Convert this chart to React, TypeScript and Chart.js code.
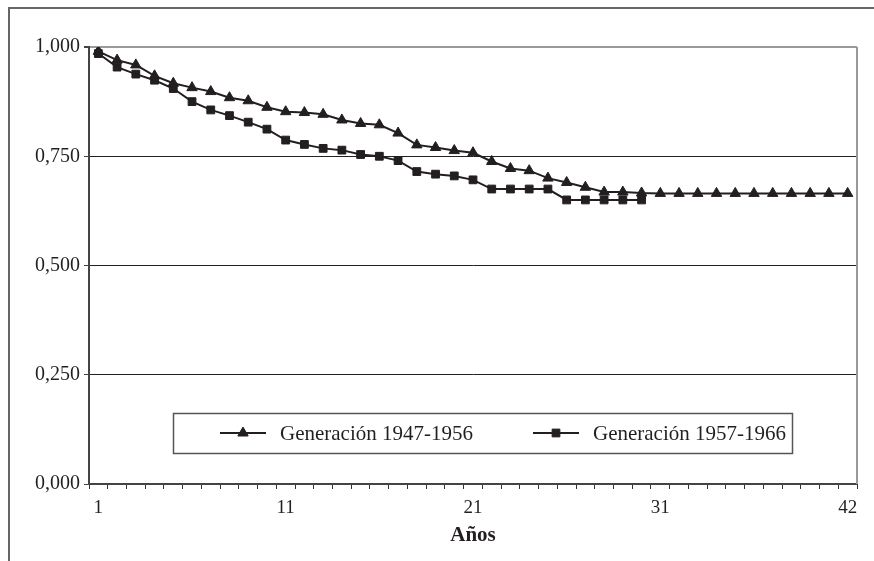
import { useEffect, useRef } from 'react';
import { Chart, registerables } from 'chart.js';
import { drawPoint } from 'chart.js/helpers';

Chart.register(...registerables);

const years = [
  '1', '2', '3', '4', '5', '6', '7', '8', '9', '10',
  '11', '12', '13', '14', '15', '16', '17', '18', '19', '20',
  '21', '22', '23', '24', '25', '26', '27', '28', '29', '30',
  '31', '32', '33', '34', '35', '36', '37', '38', '39', '40',
  '42',
];
const shownTickIndices = [0, 10, 20, 30, 40];

const seriesNames = ['Generación 1947-1956', 'Generación 1957-1966'];

const gen1947 = [
  0.990, 0.970, 0.959, 0.934, 0.917, 0.907, 0.898, 0.884, 0.877, 0.862,
  0.852, 0.850, 0.846, 0.833, 0.825, 0.822, 0.803, 0.776, 0.770, 0.763,
  0.758, 0.738, 0.722, 0.717, 0.700, 0.690, 0.679, 0.668, 0.668, 0.666,
  0.665, 0.665, 0.665, 0.665, 0.665, 0.665, 0.665, 0.665, 0.665, 0.665,
  0.665,
];

const gen1957 = [
  0.985, 0.954, 0.938, 0.924, 0.905, 0.875, 0.856, 0.843, 0.828, 0.812,
  0.787, 0.777, 0.768, 0.764, 0.754, 0.750, 0.740, 0.715, 0.709, 0.705,
  0.696, 0.675, 0.675, 0.675, 0.675, 0.650, 0.650, 0.650, 0.650, 0.650,
];

const yMin = 0;
const yMax = 1;
const yStep = 0.25;
const xTitle = 'Años';

const INK = '#231f20';
const FONT = '"Liberation Serif", "Times New Roman", serif';

const framePlugin = {
  id: 'framePlugin',
  beforeDraw(chart: any) {
    const ctx = chart.ctx;
    ctx.save();
    ctx.fillStyle = '#ffffff';
    ctx.fillRect(0, 0, chart.width, chart.height);
    ctx.strokeStyle = '#666666';
    ctx.lineWidth = 2;
    ctx.beginPath();
    ctx.moveTo(9, chart.height);
    ctx.lineTo(9, 8);
    ctx.lineTo(chart.width, 8);
    ctx.stroke();
    ctx.restore();
  },
  beforeDatasetsDraw(chart: any) {
    const { ctx, chartArea } = chart;
    ctx.save();
    ctx.strokeStyle = '#9a9a9a';
    ctx.lineWidth = 2;
    ctx.beginPath();
    ctx.moveTo(chartArea.right, chartArea.top);
    ctx.lineTo(chartArea.right, chartArea.bottom);
    ctx.stroke();
    ctx.restore();
  },
};

const legendPlugin = {
  id: 'boxLegend',
  afterDraw(chart: any) {
    const { ctx, chartArea } = chart;
    const left = chartArea.left + 84;
    const top = chartArea.bottom - 71;
    const w = 619;
    const h = 40;
    ctx.save();
    ctx.fillStyle = '#ffffff';
    ctx.fillRect(left, top, w, h);
    ctx.strokeStyle = '#555555';
    ctx.lineWidth = 1.5;
    ctx.strokeRect(left + 0.5, top + 0.5, w, h);
    const cy = top + h / 2;
    const itemX = [left + 47, left + 360];
    chart.data.datasets.forEach((ds: any, i: number) => {
      const x0 = itemX[i];
      const x1 = x0 + 46;
      ctx.strokeStyle = ds.borderColor;
      ctx.lineWidth = ds.borderWidth;
      ctx.beginPath();
      ctx.moveTo(x0, cy);
      ctx.lineTo(x1, cy);
      ctx.stroke();
      ctx.fillStyle = ds.pointBackgroundColor;
      ctx.strokeStyle = ds.pointBorderColor;
      ctx.lineWidth = ds.pointBorderWidth;
      drawPoint(ctx, { pointStyle: ds.pointStyle, radius: ds.pointRadius, rotation: 0, borderWidth: ds.pointBorderWidth } as any, (x0 + x1) / 2, cy);
      ctx.fillStyle = INK;
      ctx.font = `21px ${FONT}`;
      ctx.textBaseline = 'middle';
      ctx.textAlign = 'left';
      ctx.fillText(ds.label, x1 + 14, cy + 1);
    });
    ctx.restore();
  },
};

export default function App() {
  const canvasRef = useRef<HTMLCanvasElement | null>(null);

  useEffect(() => {
    if (!canvasRef.current) return;
    const chart = new Chart(canvasRef.current, {
      type: 'line',
      data: {
        labels: years,
        datasets: [
          {
            label: seriesNames[0],
            data: gen1947,
            borderColor: INK,
            backgroundColor: INK,
            pointBackgroundColor: INK,
            pointBorderColor: INK,
            borderWidth: 2,
            pointStyle: 'triangle',
            pointRadius: 6,
            pointBorderWidth: 1,
            tension: 0,
            fill: false,
          },
          {
            label: seriesNames[1],
            data: gen1957,
            borderColor: INK,
            backgroundColor: INK,
            pointBackgroundColor: INK,
            pointBorderColor: INK,
            borderWidth: 2,
            pointStyle: 'rect',
            pointRadius: 5.5,
            pointBorderWidth: 1,
            tension: 0,
            fill: false,
          },
        ],
      },
      options: {
        animation: false,
        responsive: false,
        maintainAspectRatio: false,
        events: [],
        layout: { padding: { left: 0, top: 47, right: 17, bottom: 0 } },
        plugins: {
          legend: { display: false },
          tooltip: { enabled: false },
        },
        scales: {
          x: {
            type: 'category',
            offset: true,
            grid: {
              offset: true,
              drawOnChartArea: false,
              drawTicks: true,
              tickLength: 5,
              color: '#333333',
              lineWidth: 1,
            },
            border: { color: '#444444', width: 2 },
            ticks: {
              autoSkip: false,
              maxRotation: 0,
              padding: 8,
              color: INK,
              font: { family: FONT, size: 19 },
              callback: (_v: any, i: number) => (shownTickIndices.includes(i) ? years[i] : ''),
            },
            title: {
              display: true,
              text: xTitle,
              color: INK,
              font: { family: FONT, size: 21, weight: 'bold' },
              padding: { top: 0, bottom: 13 },
            },
            afterFit: (s: any) => {
              s.height = 77;
            },
          },
          y: {
            min: yMin,
            max: yMax,
            ticks: {
              stepSize: yStep,
              padding: 4,
              color: INK,
              font: { family: FONT, size: 20 },
              callback: (v: any) => Number(v).toFixed(3).replace('.', ','),
            },
            grid: {
              color: (c: any) => (c.tick && c.tick.value === 1 ? '#9a9a9a' : c.tick && c.tick.value === 0 ? 'rgba(0,0,0,0)' : '#222222'),
              lineWidth: (c: any) => (c.tick && c.tick.value === 1 ? 2 : 1),
              tickLength: 5,
              tickColor: '#444444',
            },
            border: { color: '#444444', width: 2 },
            afterFit: (s: any) => {
              s.width = 89;
            },
          },
        },
      },
      plugins: [framePlugin, legendPlugin],
    });
    return () => chart.destroy();
  }, []);

  return (
    <div style={{ position: 'fixed', left: 0, top: 0, width: 874, height: 561, background: '#fff' }}>
      <canvas ref={canvasRef} width={874} height={561} style={{ display: 'block' }} />
    </div>
  );
}
